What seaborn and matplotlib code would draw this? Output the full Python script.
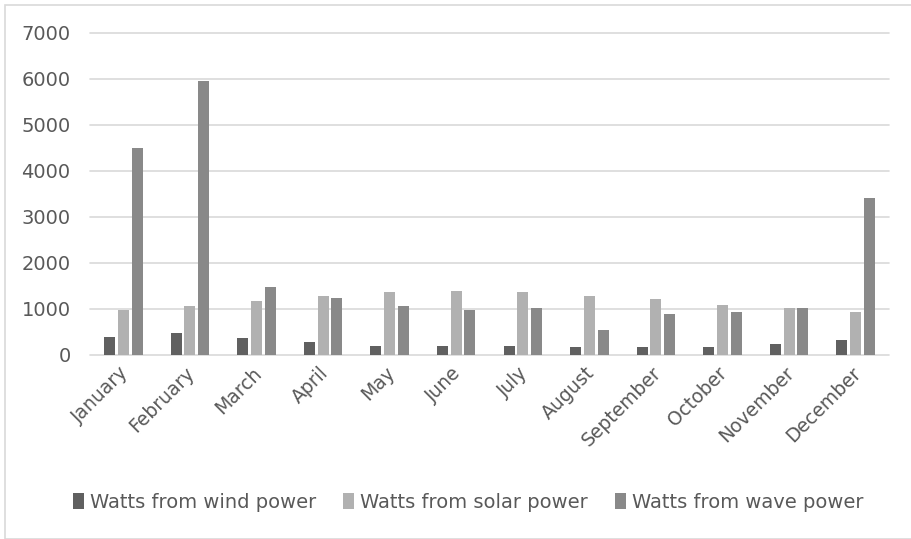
import numpy as np
import pandas as pd
import matplotlib
matplotlib.use("Agg")
import matplotlib.pyplot as plt
import matplotlib.transforms as mtransforms
import seaborn as sns
from matplotlib.patches import Patch, Rectangle

months = ["January", "February", "March", "April", "May", "June", "July",
          "August", "September", "October", "November", "December"]
wind = [390, 480, 360, 285, 205, 205, 205, 165, 165, 165, 250, 320]
solar = [980, 1060, 1170, 1290, 1360, 1400, 1360, 1290, 1210, 1095, 1015, 935]
wave = [4500, 5965, 1480, 1250, 1055, 980, 1015, 550, 900, 935, 1015, 3410]
series = ["Watts from wind power", "Watts from solar power", "Watts from wave power"]
colors = ["#606060", "#b1b1b1", "#898989"]
yticks = [0, 1000, 2000, 3000, 4000, 5000, 6000, 7000]

df = pd.DataFrame({
    "Month": months * 3,
    "Series": [series[0]] * 12 + [series[1]] * 12 + [series[2]] * 12,
    "Value": wind + solar + wave,
})

sns.set_theme(style="white")
plt.rcParams["font.family"] = ["DejaVu Sans"]
text_color = "#595959"

fig = plt.figure(figsize=(9.11, 5.39), dpi=100)
ax = fig.add_axes([90 / 911, 1 - 355 / 539, (889 - 90) / 911, (355 - 33) / 539])

sns.barplot(data=df, x="Month", y="Value", hue="Series", order=months,
            hue_order=series, palette=colors, width=0.62, gap=0.2,
            edgecolor="none", ax=ax, legend=False)

ax.set_ylim(0, 7000)
ax.set_yticks(yticks)
ax.set_yticklabels([str(t) for t in yticks])
ax.set_xlim(-0.5, 11.5)
ax.grid(axis="y", color="#d9d9d9", linewidth=1.2)
for gl in ax.get_ygridlines():
    gl.set_clip_on(False)
ax.set_axisbelow(True)
for s in ax.spines.values():
    s.set_visible(False)
ax.set_xlabel("")
ax.set_ylabel("")
ax.tick_params(axis="both", length=0, colors=text_color)
ax.tick_params(axis="y", pad=14, labelsize=14)
ax.tick_params(axis="x", pad=11, labelsize=13.5)
offset = mtransforms.ScaledTranslation(2 / 100, 0, fig.dpi_scale_trans)
for lbl in ax.get_xticklabels():
    lbl.set_rotation(45)
    lbl.set_ha("right")
    lbl.set_va("center")
    lbl.set_rotation_mode("anchor")
    lbl.set_transform(lbl.get_transform() + offset)

handles = [Patch(facecolor=c, edgecolor="none") for c in colors]
fig.legend(handles, series, loc="center", bbox_to_anchor=(0.514, 0.068), ncol=3,
           frameon=False, handlelength=0.55, handleheight=0.9, handletextpad=0.3,
           columnspacing=1.4, fontsize=14, labelcolor=text_color)

fig.patches.append(Rectangle((5 / 911, 0.0), 1.0, 1 - 5 / 539, transform=fig.transFigure,
                             fill=False, edgecolor="#d9d9d9", linewidth=1.2))

fig.savefig("out.png", dpi=100, facecolor="white")
